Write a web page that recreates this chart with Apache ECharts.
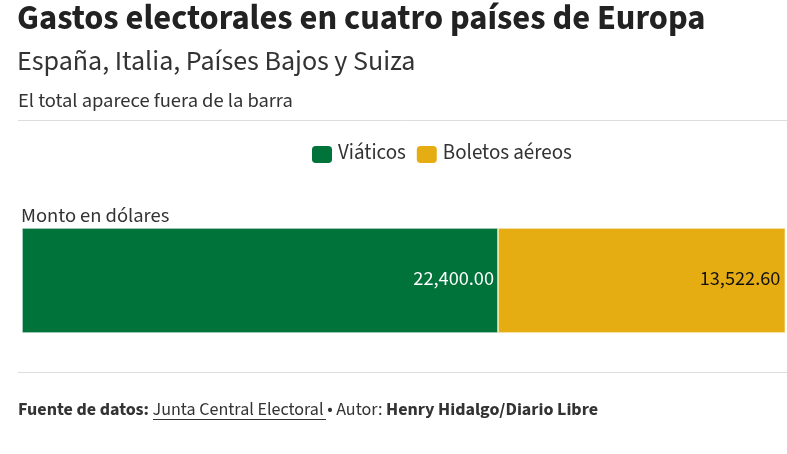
<!DOCTYPE html>
<html><head><meta charset="utf-8">
<script src="https://cdn.jsdelivr.net/npm/echarts@6/dist/echarts.min.js"></script>
<style>html,body{margin:0;padding:0;background:#fff;}#c{width:787px;height:454px;}</style>
</head><body><div id="c"></div>
<script>
var categories = ['Gastos'];
var seriesNames = ['Viáticos', 'Boletos aéreos'];
var viaticos = [22400.00];
var boletos = [13522.60];
var totals = [viaticos[0] + boletos[0]];
var F = "'Source Sans 3','Source Sans Pro',Lato,sans-serif";
function fmt(v){return v.toLocaleString('en-US',{minimumFractionDigits:2,maximumFractionDigits:2});}
var chart = echarts.init(document.getElementById('c'), null, {renderer:'canvas'});
chart.setOption({
  backgroundColor:'#fff',
  animation:false,
  title:[
    {text:'Gastos electorales en cuatro países de Europa', left:17, top:4, padding:0, textStyle:{fontFamily:F, fontSize:34.5, fontWeight:'bold', color:'#222'}},
    {text:'España, Italia, Países Bajos y Suiza', left:17, top:50, padding:0, textStyle:{fontFamily:F, fontSize:28, fontWeight:'normal', color:'#333'}},
    {text:'El total aparece fuera de la barra', left:18, top:92, padding:0, textStyle:{fontFamily:F, fontSize:20.5, fontWeight:'normal', color:'#333'}},
    {text:'Monto en dólares', left:21, top:207, padding:0, textStyle:{fontFamily:F, fontSize:20.5, fontWeight:'normal', color:'#333'}},
    {text:'{b|Fuente de datos:} {u|Junta Central Electoral} {n|• Autor:} {b|Henry Hidalgo/Diario Libre}', left:18, top:402, padding:0,
     textStyle:{fontFamily:F, fontSize:18, fontWeight:'normal', color:'#333',
       rich:{b:{fontFamily:F,fontSize:18,fontWeight:'bold',color:'#333'},u:{fontFamily:F,fontSize:18,fontWeight:'normal',color:'#333'},n:{fontFamily:F,fontSize:18,fontWeight:'normal',color:'#333'}}}}
  ],
  graphic:[
    {type:'line', shape:{x1:18,y1:120.5,x2:787,y2:120.5}, style:{stroke:'#ddd',lineWidth:1}},
    {type:'line', shape:{x1:18,y1:372.5,x2:787,y2:372.5}, style:{stroke:'#ddd',lineWidth:1}},
    {type:'line', shape:{x1:153,y1:419.5,x2:326,y2:419.5}, style:{stroke:'#333',lineWidth:1}}
  ],
  legend:{
    data:seriesNames, top:139, left:305, itemWidth:22, itemHeight:19, itemGap:9, icon:'roundRect',
    textStyle:{fontFamily:F, fontSize:21, color:'#333'}
  },
  grid:{left:22, right:0, top:228, bottom:121, containLabel:false},
  xAxis:{type:'value', min:0, max:36000, show:false},
  yAxis:{type:'category', data:categories, show:false},
  series:[
    {name:seriesNames[0], type:'bar', stack:'t', data:viaticos, barCategoryGap:'0%', barWidth:'100%',
     itemStyle:{color:'#00733b', borderColor:'#fff', borderWidth:0.6},
     label:{show:true, position:'insideRight', distance:4, formatter:function(p){return fmt(p.value);}, fontFamily:F, fontSize:20.3, color:'#fff'}},
    {name:seriesNames[1], type:'bar', stack:'t', data:boletos, barWidth:'100%',
     itemStyle:{color:'#e6ad13', borderColor:'#fff', borderWidth:0.6},
     label:{show:true, position:'insideRight', distance:5, formatter:function(p){return fmt(p.value);}, fontFamily:F, fontSize:20.3, color:'#111'}},
    {name:'Total', type:'bar', stack:'t', data:[0], barWidth:'100%', silent:true, legendHoverLink:false,
     label:{show:true, position:'right', distance:1, formatter:function(){return fmt(totals[0]);}, fontFamily:F, fontSize:20.3, color:'#333'}}
  ]
});
</script></body></html>
